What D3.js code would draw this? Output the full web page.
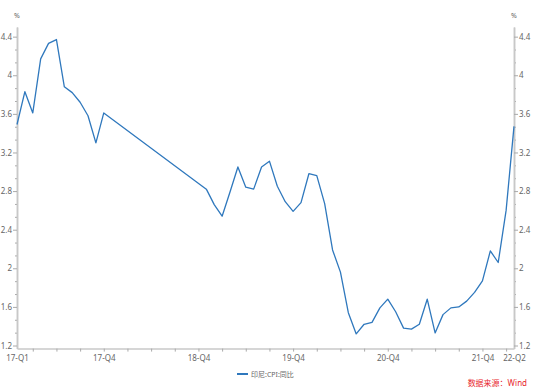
<html>
<head>
<meta charset='utf-8'>
<script src='https://d3js.org/d3.v7.min.js'></script>
<style>
body { margin: 0; background: white; }
text { font-family: 'Noto Sans', 'Noto Sans CJK SC', sans-serif; }
</style>
</head>
<body>
<svg width=539 height=392></svg>
<script>
// monthly CPI yoy, 2018 is missing in the source so the line just joins across
const months = [
	'2017-01','2017-02','2017-03','2017-04','2017-05','2017-06','2017-07','2017-08','2017-09','2017-10','2017-11','2017-12',
	'2019-01','2019-02','2019-03','2019-04','2019-05','2019-06','2019-07','2019-08','2019-09','2019-10','2019-11','2019-12',
	'2020-01','2020-02','2020-03','2020-04','2020-05','2020-06','2020-07','2020-08','2020-09','2020-10','2020-11','2020-12',
	'2021-01','2021-02','2021-03','2021-04','2021-05','2021-06','2021-07','2021-08','2021-09','2021-10','2021-11','2021-12',
	'2022-01','2022-02','2022-03','2022-04'
]
const cpiValues = [
	3.49, 3.83, 3.61, 4.17, 4.33, 4.37, 3.88, 3.82, 3.72, 3.58, 3.30, 3.61,
	2.82, 2.66, 2.54, 2.79, 3.05, 2.84, 2.82, 3.05, 3.11, 2.85, 2.69, 2.59,
	2.68, 2.98, 2.96, 2.67, 2.19, 1.96, 1.54, 1.32, 1.42, 1.44, 1.59, 1.68,
	1.55, 1.38, 1.37, 1.42, 1.68, 1.33, 1.52, 1.59, 1.60, 1.66, 1.75, 1.87,
	2.18, 2.06, 2.60, 3.47
]
const xLabelMonths = ['2017-01','2017-12','2018-12','2019-12','2020-12','2021-12','2022-04']
const xLabels = ['17-Q1','17-Q4','18-Q4','19-Q4','20-Q4','21-Q4','22-Q2']
const yTicks = [1.2, 1.6, 2, 2.4, 2.8, 3.2, 3.6, 4, 4.4]
const seriesName = '印尼:CPI:同比'
const sourceText = '数据来源：Wind'

const lineColor = '#2f78bd'
const axisColor = '#c8c8c8'
const textColor = '#666'

// month index from Jan 2017
const monthIndex = (s) => {
	const [yy, mm] = s.split('-').map(Number)
	return (yy - 2017) * 12 + (mm - 1)
}
const data = months.map((m, i) => ({ t: monthIndex(m), v: cpiValues[i] }))

const plotLeft = 17, plotRight = 514, plotTop = 27, plotBottom = 348.6
const x = d3.scaleLinear().domain([0, monthIndex('2022-04')]).range([plotLeft, plotRight])
const y = d3.scaleLinear().domain([1.168, 4.5]).range([plotBottom, plotTop])

const svg = d3.select('svg')

// minor ticks: y every 0.4/3, x every quarter end
const yMinor = d3.range(0, 25).map(k => 1.2 + k * 0.4 / 3).filter((v, k) => k % 3 !== 0)
const xMinor = d3.range(2, monthIndex('2022-04'), 3)

const styleAxis = (g, fontSize) => {
	g.select('.domain').attr('stroke', axisColor).attr('stroke-width', 1.5)
	g.selectAll('.tick line').attr('stroke', '#aaa')
	g.selectAll('.tick text').attr('fill', textColor).style('font-size', fontSize + 'px')
}

// left axis
svg.append('g')
	.attr('transform', `translate(${plotLeft},0)`)
	.call(d3.axisLeft(y).tickValues(yMinor).tickSize(2).tickSizeOuter(0).tickFormat(''))
	.call(g => styleAxis(g, 8))
svg.append('g')
	.attr('transform', `translate(${plotLeft},0)`)
	.call(d3.axisLeft(y).tickValues(yTicks).tickSize(4).tickSizeOuter(0).tickPadding(1).tickFormat(d3.format('')))
	.call(g => styleAxis(g, 8))

// right axis
svg.append('g')
	.attr('transform', `translate(${plotRight},0)`)
	.call(d3.axisRight(y).tickValues(yMinor).tickSize(2).tickSizeOuter(0).tickFormat(''))
	.call(g => styleAxis(g, 8))
svg.append('g')
	.attr('transform', `translate(${plotRight},0)`)
	.call(d3.axisRight(y).tickValues(yTicks).tickSize(4).tickSizeOuter(0).tickPadding(1).tickFormat(d3.format('')))
	.call(g => styleAxis(g, 8))

// bottom axis
svg.append('g')
	.attr('transform', `translate(0,${plotBottom})`)
	.call(d3.axisBottom(x).tickValues(xMinor).tickSize(3).tickSizeOuter(0).tickFormat(''))
	.call(g => styleAxis(g, 8))
svg.append('g')
	.attr('transform', `translate(0,${plotBottom})`)
	.call(d3.axisBottom(x).tickValues(xLabelMonths.map(monthIndex)).tickSize(0).tickSizeOuter(0).tickPadding(7)
		.tickFormat((d, i) => xLabels[i]))
	.call(g => styleAxis(g, 8))
	.call(g => g.select('.domain').remove())

// units
svg.append('text').attr('x', plotLeft).attr('y', 18).attr('text-anchor', 'middle')
	.attr('fill', textColor).style('font-size', '7px').text('%')
svg.append('text').attr('x', plotRight).attr('y', 18).attr('text-anchor', 'middle')
	.attr('fill', textColor).style('font-size', '7px').text('%')

// the line
svg.append('path')
	.datum(data)
	.attr('fill', 'none')
	.attr('stroke', lineColor)
	.attr('stroke-width', 1.3)
	.attr('stroke-linejoin', 'round')
	.attr('d', d3.line().x(d => x(d.t)).y(d => y(d.v)))

// legend
svg.append('line')
	.attr('x1', 237).attr('x2', 248).attr('y1', 374).attr('y2', 374)
	.attr('stroke', lineColor).attr('stroke-width', 2)
svg.append('text')
	.attr('x', 251).attr('y', 376.5)
	.attr('fill', textColor).style('font-size', '7px')
	.text(seriesName)

// source
svg.append('text')
	.attr('x', 527).attr('y', 386)
	.attr('text-anchor', 'end')
	.attr('fill', '#e8262d').style('font-size', '8px')
	.text(sourceText)
</script>
</body>
</html>
